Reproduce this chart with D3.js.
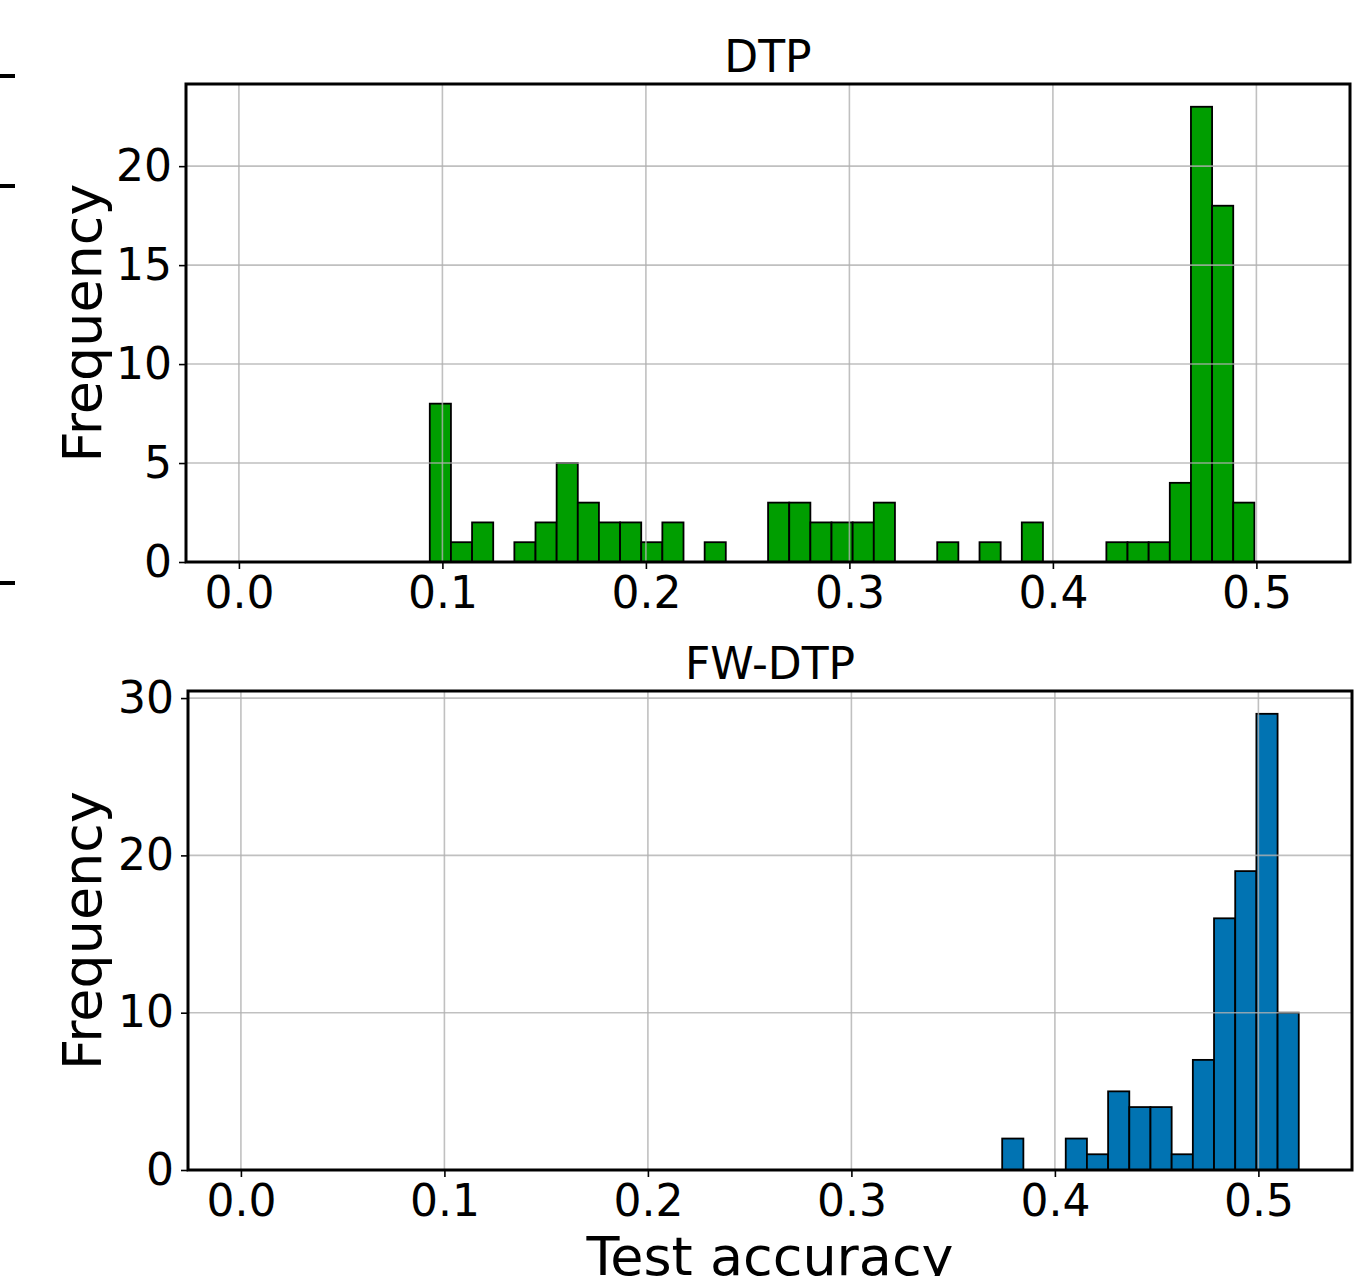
<!DOCTYPE html>
<html>
<head>
<meta charset="utf-8">
<script src="https://cdn.jsdelivr.net/npm/d3@7"></script>
<style>
  body { margin: 0; background: #fff; }
  svg { display: block; font-family: "DejaVu Sans", sans-serif; }
</style>
</head>
<body>
<div id="chart"></div>
<script>
// accuracy axis
const accDomain = [-0.026, 0.546];
const accTicks = [0, 0.1, 0.2, 0.3, 0.4, 0.5];

// DTP histogram (39 bins)
const dtpBinStart = 0.0938;
const dtpBinWidth = 0.01039;
const dtpCounts = [8, 1, 2, 0, 1, 2, 5, 3, 2, 2, 1, 2, 0, 1, 0, 0, 3, 3, 2, 2,
                   2, 3, 0, 0, 1, 0, 1, 0, 2, 0, 0, 0, 1, 1, 1, 4, 23, 18, 3];
const dtpYMax = 24.15;
const dtpYTicks = [0, 5, 10, 15, 20];

// FW-DTP histogram (14 bins)
const fwBinStart = 0.3741;
const fwBinWidth = 0.01041;
const fwCounts = [2, 0, 0, 2, 1, 5, 4, 4, 1, 7, 16, 19, 29, 10];
const fwYMax = 30.45;
const fwYTicks = [0, 10, 20, 30];

const width = 1366, height = 1276;

const svg = d3.select("#chart").append("svg")
    .attr("width", width)
    .attr("height", height);

// bits of a neighbouring panel cut off at the left edge
[76, 186, 583].forEach(y => {
    svg.append("line")
        .attr("x1", 0).attr("x2", 15)
        .attr("y1", y).attr("y2", y)
        .attr("stroke", "#000")
        .attr("stroke-width", 4);
});

function drawPanel(opts) {
    let box = opts.box;
    let x = d3.scaleLinear().domain(accDomain).range([box.left, box.right]);
    let y = d3.scaleLinear().domain([0, opts.yMax]).range([box.bottom, box.top]);

    let g = svg.append("g");

    let bins = opts.counts.map((c, i) => ({
        x0: opts.binStart + i * opts.binWidth,
        x1: opts.binStart + (i + 1) * opts.binWidth,
        count: c
    })).filter(d => d.count > 0);

    g.selectAll("rect.bar").data(bins).enter().append("rect")
        .attr("class", "bar")
        .attr("x", d => x(d.x0))
        .attr("width", d => x(d.x1) - x(d.x0))
        .attr("y", d => y(d.count))
        .attr("height", d => y(0) - y(d.count))
        .attr("fill", opts.color)
        .attr("stroke", "#000")
        .attr("stroke-width", 1.8);

    // grid sits on top of the bars in the original
    g.selectAll("line.vgrid").data(accTicks).enter().append("line")
        .attr("x1", d => x(d)).attr("x2", d => x(d))
        .attr("y1", box.top).attr("y2", box.bottom)
        .attr("stroke", "#b0b0b0").attr("stroke-opacity", 0.8)
        .attr("stroke-width", 1.6);
    g.selectAll("line.hgrid").data(opts.yTicks).enter().append("line")
        .attr("x1", box.left).attr("x2", box.right)
        .attr("y1", d => y(d)).attr("y2", d => y(d))
        .attr("stroke", "#b0b0b0").attr("stroke-opacity", 0.8)
        .attr("stroke-width", 1.6);

    let xAxis = d3.axisBottom(x).tickValues(accTicks).tickFormat(d3.format(".1f"))
        .tickSize(7).tickPadding(8);
    let xg = g.append("g")
        .attr("transform", "translate(0," + box.bottom + ")")
        .call(xAxis);
    let yAxis = d3.axisLeft(y).tickValues(opts.yTicks).tickFormat(d3.format("d"))
        .tickSize(7).tickPadding(7);
    let yg = g.append("g")
        .attr("transform", "translate(" + box.left + ",0)")
        .call(yAxis);
    [xg, yg].forEach(a => {
        a.select(".domain").remove();
        a.selectAll(".tick line").attr("stroke", "#000").attr("stroke-width", 1.6);
        a.selectAll(".tick text")
            .attr("fill", "#000")
            .style("font-family", "DejaVu Sans")
            .style("font-size", "44px");
    });

    // frame
    g.append("rect")
        .attr("x", box.left).attr("y", box.top)
        .attr("width", box.right - box.left)
        .attr("height", box.bottom - box.top)
        .attr("fill", "none")
        .attr("stroke", "#000")
        .attr("stroke-width", 3);

    g.append("text")
        .attr("x", (box.left + box.right) / 2)
        .attr("y", box.top - 12)
        .attr("text-anchor", "middle")
        .style("font-size", "44px")
        .text(opts.title);

    g.append("text")
        .attr("transform", "translate(101," + (box.top + box.bottom) / 2 + ") rotate(-90)")
        .attr("text-anchor", "middle")
        .style("font-size", "54px")
        .text("Frequency");

    return x;
}

drawPanel({
    box: {left: 186, right: 1350, top: 84, bottom: 562},
    counts: dtpCounts, binStart: dtpBinStart, binWidth: dtpBinWidth,
    yMax: dtpYMax, yTicks: dtpYTicks,
    color: "#009e00", title: "DTP"
});

drawPanel({
    box: {left: 188, right: 1352, top: 691, bottom: 1170},
    counts: fwCounts, binStart: fwBinStart, binWidth: fwBinWidth,
    yMax: fwYMax, yTicks: fwYTicks,
    color: "#0173b2", title: "FW-DTP"
});

svg.append("text")
    .attr("x", 770)
    .attr("y", 1275)
    .attr("text-anchor", "middle")
    .style("font-size", "54px")
    .text("Test accuracy");
</script>
</body>
</html>
